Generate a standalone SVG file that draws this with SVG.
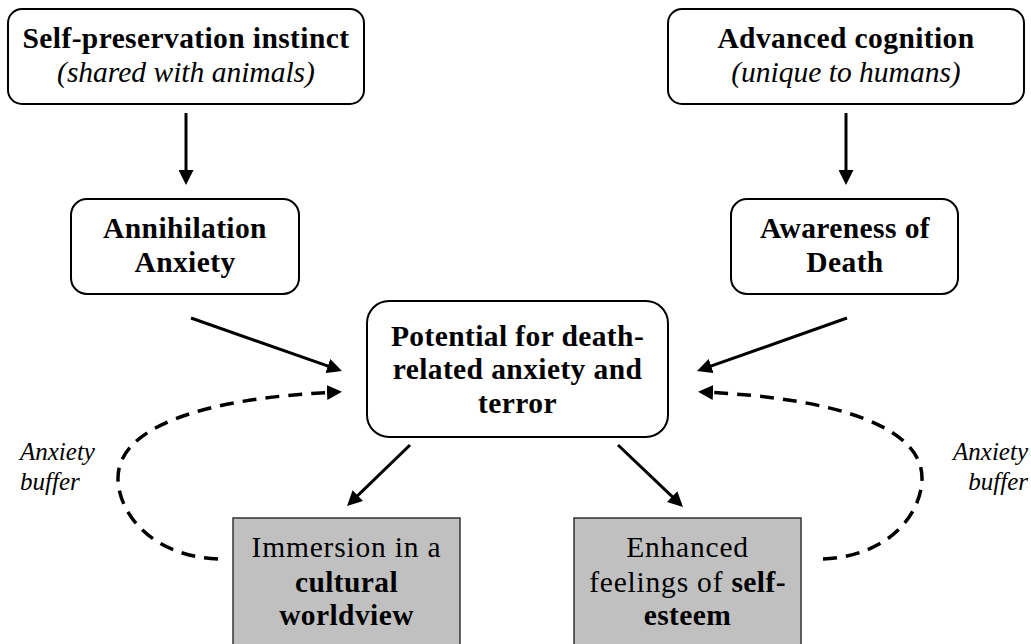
<svg xmlns="http://www.w3.org/2000/svg" width="1031" height="644" viewBox="0 0 1031 644">
  <style>
    .box { fill: #ffffff; stroke: #000000; stroke-width: 2; }
    .shade { fill: #c0c0c0; stroke: #333333; stroke-width: 1.5; }
    .b { font-weight: bold; letter-spacing: 0.4px; }
    .r { letter-spacing: 0.8px; }
    .i { font-style: italic; }
    .lbl { font-style: italic; font-size: 25px; }
    .arrow { stroke: #000000; stroke-width: 3; fill: none; marker-end: url(#head); }
    .dash { stroke: #000000; stroke-width: 3.5; fill: none; stroke-dasharray: 14 9; marker-end: url(#head); }
  </style>
  <defs>
    <marker id="head" markerUnits="userSpaceOnUse" markerWidth="15" markerHeight="15" refX="11" refY="7.5" orient="auto">
      <path d="M0,0 L15,7.5 L0,15 Z" fill="#000000"/>
    </marker>
  </defs>
  <rect width="1031" height="644" fill="#ffffff"/>

  <g font-family="Liberation Serif, serif" font-size="29.5" text-anchor="middle" fill="#000000">
    <g id="self-preservation">
      <rect class="box" x="8" y="9" width="356" height="95" rx="14"/>
      <text class="b" x="186" y="48">Self-preservation instinct</text>
      <text class="i" x="186" y="82">(shared with animals)</text>
    </g>

    <g id="advanced-cognition">
      <rect class="box" x="668" y="9" width="356" height="95" rx="14"/>
      <text class="b" x="846" y="48">Advanced cognition</text>
      <text class="i" x="846" y="82">(unique to humans)</text>
    </g>

    <g id="annihilation-anxiety">
      <rect class="box" x="71" y="199" width="228" height="95" rx="16"/>
      <text class="b" x="185" y="238">Annihilation</text>
      <text class="b" x="185" y="272">Anxiety</text>
    </g>

    <g id="awareness-of-death">
      <rect class="box" x="731" y="199" width="227" height="95" rx="16"/>
      <text class="b" x="845" y="238">Awareness of</text>
      <text class="b" x="845" y="272">Death</text>
    </g>

    <g id="potential-terror">
      <rect class="box" x="367" y="301" width="301" height="136" rx="22"/>
      <text class="b" x="517.5" y="346">Potential for death-</text>
      <text class="b" x="517.5" y="379">related anxiety and</text>
      <text class="b" x="517.5" y="413">terror</text>
    </g>

    <g id="cultural-worldview">
      <rect class="shade" x="233" y="518" width="227" height="140"/>
      <text class="r" x="346.5" y="557">Immersion in a</text>
      <text class="b" x="346.5" y="592">cultural</text>
      <text class="b" x="346.5" y="625">worldview</text>
    </g>

    <g id="self-esteem">
      <rect class="shade" x="574" y="518" width="227" height="140"/>
      <text class="r" x="687.5" y="557">Enhanced</text>
      <text class="r" x="687.5" y="592">feelings of <tspan class="b">self-</tspan></text>
      <text class="b" x="687.5" y="625">esteem</text>
    </g>

    <g id="buffer-labels">
      <text class="lbl" x="20" y="460" text-anchor="start">Anxiety</text>
      <text class="lbl" x="20" y="490" text-anchor="start">buffer</text>
      <text class="lbl" x="1028" y="460" text-anchor="end">Anxiety</text>
      <text class="lbl" x="1028" y="490" text-anchor="end">buffer</text>
    </g>
  </g>

  <g id="connectors">
    <line class="arrow" x1="186" y1="113" x2="186" y2="181"/>
    <line class="arrow" x1="846" y1="113" x2="846" y2="181"/>
    <line class="arrow" x1="191" y1="318" x2="338.2" y2="369.7"/>
    <line class="arrow" x1="847" y1="318" x2="700.8" y2="369.7"/>
    <line class="arrow" x1="410" y1="445" x2="349.9" y2="503.2"/>
    <line class="arrow" x1="618" y1="445" x2="680.1" y2="504.2"/>
    <path class="dash" d="M218,559 C150,556 118,512 118,478 C118,428 200,398 338,392"/>
    <path class="dash" d="M823,559 C891,556 922,512 922,478 C922,428 840,398 702,392"/>
  </g>
</svg>
